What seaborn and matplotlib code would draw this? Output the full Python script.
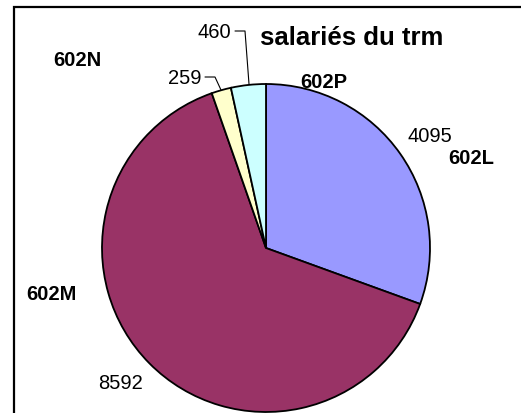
import matplotlib
matplotlib.use("Agg")
import matplotlib.pyplot as plt
import seaborn as sns

categories = ["602L", "602M", "602N", "602P"]
values = [4095, 8592, 259, 460]
title = "salariés du trm"

colors = ["#9999FF", "#993366", "#FFFFCC", "#CCFFFF"]

sns.set_theme(style="white")
plt.rcParams['font.family'] = ['Liberation Sans', 'DejaVu Sans']
plt.rcParams['text.color'] = 'black'

W, H = 521, 414
fig = plt.figure(figsize=(W / 100, H / 100), dpi=100)
ax = fig.add_axes([0, 0, 1, 1])
ax.axis('off')

def Y(y):
    return H - y

cx, cy, r = 266, 249, 164
ax.pie(values, colors=colors, startangle=90, counterclock=False,
       center=(cx, Y(cy)), radius=r,
       wedgeprops=dict(edgecolor='black', linewidth=1.3))
ax.set_xlim(0, W)
ax.set_ylim(0, H)
ax.set_aspect('equal')

# frame
ax.plot([14, 14, W + 5], [Y(H + 5), Y(8), Y(8)], color='black', lw=1.6,
        clip_on=False, solid_joinstyle='miter')

# category labels (bold)
cat_pos = {"602L": (471, 158), "602M": (51, 294), "602N": (77, 61), "602P": (324, 82)}
for c in categories:
    x, y = cat_pos[c]
    ax.text(x, Y(y), c, ha='center', va='center', fontsize=14.5,
            fontweight='bold', color='black')

# value labels
val_pos = [(430, 137), (120, 384), (185, 78), (214, 32)]
for v, (x, y) in zip(values, val_pos):
    ax.text(x, Y(y), str(v), ha='center', va='center', fontsize=14.5, color='black')

# leader lines
ax.plot([205, 215, 221], [Y(78), Y(78), Y(91)], color='black', lw=0.8)
ax.plot([235, 245, 249], [Y(32), Y(32), Y(85)], color='black', lw=0.8)

ax.text(352, Y(38), title, ha='center', va='center', fontsize=18.5,
        fontweight='bold', color='black')

fig.savefig("out.png", dpi=100)
